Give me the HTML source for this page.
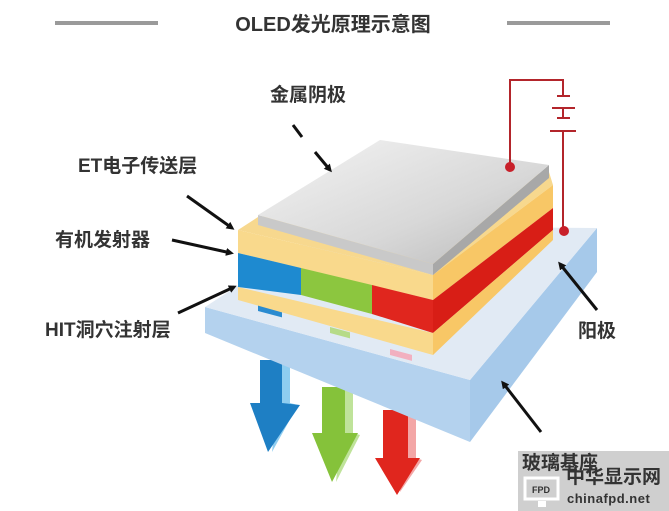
<!DOCTYPE html>
<html><head><meta charset="utf-8"><style>
html,body{margin:0;padding:0;background:#fff}
svg{display:block}
text{font-family:"Liberation Sans","Noto Sans CJK SC",sans-serif;fill:#333;font-weight:bold}
</style></head><body>
<svg width="669" height="511" viewBox="0 0 669 511" xmlns="http://www.w3.org/2000/svg">
<defs>
<marker id="ah" markerWidth="8" markerHeight="8" refX="5" refY="4" orient="auto" markerUnits="userSpaceOnUse">
<path d="M0,0 L8,4 L0,8 Z" fill="#111"/></marker>
<linearGradient id="gray" x1="0" y1="0" x2="1" y2="1"><stop offset="0" stop-color="#f4f4f4"/><stop offset="0.6" stop-color="#d8d8d8"/><stop offset="1" stop-color="#b9b9b9"/></linearGradient>
</defs>
<rect width="669" height="511" fill="#fff"/>
<rect x="55" y="21" width="103" height="4" fill="#9a9a9a"/>
<rect x="507" y="21" width="103" height="4" fill="#9a9a9a"/>
<text x="333" y="31" font-size="20" text-anchor="middle" fill="#222">OLED发光原理示意图</text>

<g>
<polygon points="282,360 290,362 290,403 298,405 272,452" fill="#8fcdf0"/>
<polygon points="260,360 282,360 282,403 300,405 268,452 250,403 260,403" fill="#1e7fc4"/>
<polygon points="345,387 353,389 353,433 360,435 336,482" fill="#bfe39a"/>
<polygon points="322,387 345,387 345,433 358,433 332,482 312,433 322,433" fill="#85c23a"/>
<polygon points="408,410 416,412 416,458 422,460 400,492" fill="#f3a6a6"/>
<polygon points="383,410 408,410 408,458 420,458 397,495 375,458 383,458" fill="#e0261e"/>
</g>

<polygon points="205,307 470,380 470,442 205,333" fill="#b4d2ee"/>
<polygon points="470,380 597,228 597,272 470,442" fill="#a6c9ea"/>
<polygon points="205,307 330,226 597,228 470,380" fill="#e1eaf4"/>
<rect x="258" y="305" width="24" height="6" fill="#2a8bd0" transform="skewY(15)" transform-origin="258 305"/>
<rect x="330" y="327" width="20" height="6" fill="#b6db88" transform="skewY(15)" transform-origin="330 327"/>
<rect x="390" y="349" width="22" height="6" fill="#f2b0c0" transform="skewY(15)" transform-origin="390 349"/>

<polygon points="238,230 258,217 549,172 553,185 433,275" fill="#f7d88e"/>
<polygon points="238,230 433,275 433,300 238,253" fill="#f9d98c"/>
<polygon points="238,253 301,268 301,295 238,287" fill="#1e8ad0"/>
<polygon points="301,268 372,285 372,314 301,295" fill="#8cc63f"/>
<polygon points="372,285 433,300 433,333 372,314" fill="#e0261e"/>
<polygon points="238,287 433,333 433,355 238,300" fill="#f9d98c"/>
<polygon points="433,275 553,185 553,208 433,300" fill="#f8c766"/>
<polygon points="433,300 553,208 553,230 433,333" fill="#d81e16"/>
<polygon points="433,333 553,230 553,240 433,355" fill="#f8c766"/>
<polygon points="258,215 433,264 433,275 258,225" fill="#c9c9c9"/>
<polygon points="433,264 549,165 549,178 433,275" fill="#a8a8a8"/>
<polygon points="258,215 380,140 549,165 433,264" fill="url(#gray)"/>

<g stroke="#b3252b" stroke-width="2" fill="none">
<polyline points="510,167 510,80 563,80 563,96"/>
<line x1="557" y1="96" x2="570" y2="96"/>
<line x1="552" y1="108" x2="575" y2="108"/>
<line x1="563" y1="108" x2="563" y2="118"/>
<line x1="557" y1="118" x2="570" y2="118"/>
<line x1="550" y1="131" x2="576" y2="131"/>
<line x1="563" y1="131" x2="563" y2="231"/>
</g>
<circle cx="510" cy="167" r="5" fill="#c8202a"/>
<circle cx="564" cy="231" r="5" fill="#c8202a"/>

<g stroke="#111" stroke-width="3" fill="none">
<line x1="293" y1="125" x2="302" y2="137"/>
<line x1="315" y1="152" x2="330" y2="170" marker-end="url(#ah)"/>
<line x1="187" y1="196" x2="232" y2="228" marker-end="url(#ah)"/>
<line x1="172" y1="240" x2="231" y2="253" marker-end="url(#ah)"/>
<line x1="178" y1="313" x2="234" y2="287" marker-end="url(#ah)"/>
<line x1="597" y1="310" x2="560" y2="264" marker-end="url(#ah)"/>
<line x1="541" y1="432" x2="503" y2="383" marker-end="url(#ah)"/>
</g>

<text x="270" y="101" font-size="19">金属阴极</text>
<text x="78" y="172" font-size="19">ET电子传送层</text>
<text x="55" y="246" font-size="19">有机发射器</text>
<text x="45" y="336" font-size="19">HIT洞穴注射层</text>
<text x="578" y="337" font-size="19">阳极</text>

<rect x="518" y="451" width="151" height="60" fill="#cfcfcf"/>
<text x="522" y="469" font-size="19" fill="#555">玻璃基座</text>
<rect x="525" y="478" width="33" height="21" fill="none" stroke="#fff" stroke-width="3"/>
<text x="541" y="493" font-size="9" fill="#fff" text-anchor="middle">FPD</text>
<rect x="538" y="501" width="8" height="6" fill="#fff"/>
<text x="566" y="483" font-size="19" fill="#fff">中华显示网</text>
<text x="567" y="503" font-size="13" fill="#fff" letter-spacing="0.5">chinafpd.net</text>
</svg>
</body></html>
